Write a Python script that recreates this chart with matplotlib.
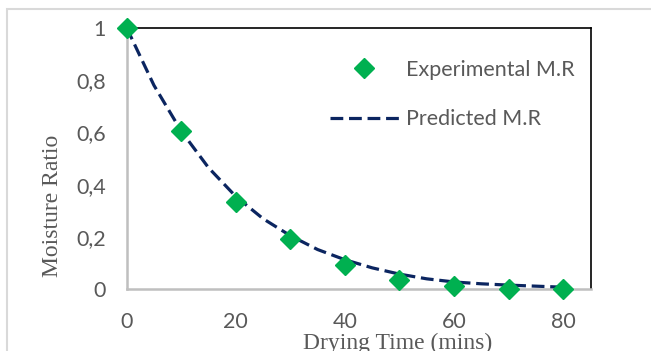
import numpy as np
import matplotlib
matplotlib.use("Agg")
import matplotlib.pyplot as plt
from matplotlib.patches import Rectangle
from matplotlib.ticker import FuncFormatter

# Datos
time_exp = [0, 10, 20, 30, 40, 50, 60, 70, 80]
mr_exp = [1.0, 0.606, 0.335, 0.193, 0.093, 0.036, 0.013, 0.003, 0.001]

time_pred = [0, 5, 10, 15, 20, 25, 30, 35, 40, 45, 50, 55, 60, 65, 70, 75, 80]
mr_pred = [1.0, 0.78, 0.605, 0.465, 0.355, 0.27, 0.205, 0.152, 0.113,
           0.082, 0.058, 0.040, 0.028, 0.021, 0.016, 0.012, 0.008]

x_ticks = [0, 20, 40, 60, 80]
y_ticks = [0, 0.2, 0.4, 0.6, 0.8, 1.0]

GREY_TXT = "#595959"
TICK_FONT = "Lato"
LABEL_FONT = "Liberation Serif"

fig = plt.figure(figsize=(6.51, 3.51), dpi=100)
fig.patches.append(Rectangle((0.0115, -0.1), 1.2, 1.0735, transform=fig.transFigure,
                             fill=False, edgecolor="#d9d9d9", linewidth=1.5))

ax = fig.add_axes([0.1945, 0.1758, 0.7133, 0.7453])

ax.plot(time_pred, mr_pred, color="#0b2560", linewidth=2.3, dashes=(4.0, 1.8),
        label="Predicted M.R", zorder=3, clip_on=False)
ax.plot(time_exp, mr_exp, linestyle="none", marker="D", markersize=10,
        color="#00b050", label="Experimental M.R", zorder=4, clip_on=False)

ax.set_xlim(0, 85.1)
ax.set_ylim(0, 1)
ax.set_xticks(x_ticks)
ax.set_yticks(y_ticks)
ax.yaxis.set_major_formatter(FuncFormatter(lambda v, p: f"{v:g}".replace(".", ",")))
ax.tick_params(length=0, labelsize=15.5, labelcolor=GREY_TXT)
ax.tick_params(axis="x", pad=16)
ax.tick_params(axis="y", pad=15)
for lab in ax.get_xticklabels() + ax.get_yticklabels():
    lab.set_fontfamily(TICK_FONT)

for side in ["left", "bottom"]:
    ax.spines[side].set_color("#bfbfbf")
    ax.spines[side].set_linewidth(1.8)
for side in ["top", "right"]:
    ax.spines[side].set_color("black")
    ax.spines[side].set_linewidth(1.2)

fig.text(0.0814, 0.413, "Moisture Ratio", rotation=90, ha="center", va="center",
         fontsize=17, color=GREY_TXT, family=LABEL_FONT)
fig.text(0.611, 1 - 333 / 351, "Drying Time (mins)", ha="center", va="top",
         fontsize=17, color=GREY_TXT, family=LABEL_FONT)

h, l = ax.get_legend_handles_labels()
leg = ax.legend(h[::-1], l[::-1], loc="upper left", bbox_to_anchor=(330 / 651, 1 - 60 / 351),
                bbox_transform=fig.transFigure, frameon=False, fontsize=15.5,
                handlelength=3.2, handletextpad=0.32, labelspacing=1.35,
                borderpad=0, borderaxespad=0)
for t in leg.get_texts():
    t.set_color(GREY_TXT)
    t.set_fontfamily(TICK_FONT)

fig.savefig("out.png", dpi=100)
